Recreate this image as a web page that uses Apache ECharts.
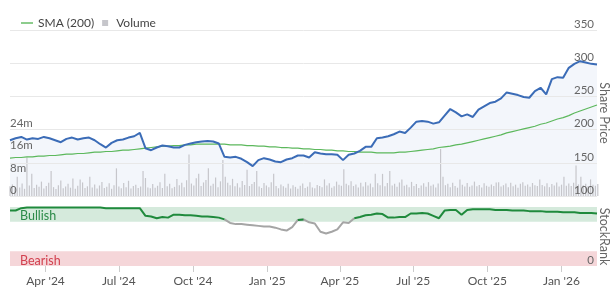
<!DOCTYPE html>
<html>
<head>
<meta charset="utf-8">
<script src="https://cdn.jsdelivr.net/npm/echarts@6/dist/echarts.min.js"></script>
<style>
  html, body { margin: 0; padding: 0; background: #fff; }
  #chart { width: 614px; height: 289px; }
</style>
</head>
<body>
<div id="chart"></div>
<script>
// weekly series start here, volume every 3 days
const startDate = new Date(2024, 1, 17).getTime()
const DAY = 86400000

const price = [
  184, 187, 189, 185, 187, 186, 189, 187, 184, 181,
  186, 188, 185, 187, 188, 184, 178, 173, 180, 184,
  185, 188, 190, 195, 172, 169, 173, 176, 175, 173,
  173, 177, 179, 181, 182, 183, 182, 179, 159, 158,
  159, 156, 151, 145, 154, 157, 155, 152, 151, 155,
  157, 161, 161, 158, 166, 164, 163, 163, 162, 154,
  162, 164, 168, 174, 174, 187, 188, 190, 193, 197,
  195, 203, 212, 213, 212, 209, 211, 221, 231, 226,
  220, 223, 219, 230, 235, 240, 242, 247, 256, 254,
  252, 249, 248, 258, 263, 253, 276, 279, 278, 293,
  299, 303, 301, 299, 298
]

const sma200 = [
  157, 158, 158, 159, 159, 160, 160, 161, 161, 162,
  163, 163, 164, 164, 165, 166, 166, 167, 167, 168,
  169, 169, 170, 171, 172, 173, 174, 175, 175, 176,
  176, 177, 177, 178, 178, 178, 178, 178, 178, 177,
  177, 177, 176, 176, 175, 175, 174, 174, 173, 173,
  172, 172, 171, 171, 170, 170, 169, 169, 168, 168,
  167, 167, 166, 166, 166, 165, 165, 165, 165, 166,
  166, 167, 168, 169, 170, 171, 173, 174, 175, 177,
  178, 180, 182, 184, 186, 188, 190, 192, 195, 197,
  199, 201, 203, 205, 208, 210, 213, 216, 218, 221,
  225, 228, 231, 234, 237
]

const stockRank = [
  94, 94, 98, 99, 99, 99, 99, 99, 99, 99,
  99, 99, 99, 99, 99, 99, 99, 98, 98, 98,
  98, 98, 98, 98, 85, 84, 81, 83, 82, 87,
  87, 86, 86, 85, 84, 84, 83, 82, 79, 73,
  71, 71, 70, 69, 68, 67, 67, 65, 62, 60,
  66, 78, 79, 74, 72, 58, 55, 58, 62, 74,
  73, 81, 83, 86, 87, 89, 88, 82, 82, 83,
  83, 89, 89, 90, 89, 85, 81, 94, 95, 95,
  87, 95, 96, 96, 96, 96, 95, 95, 95, 94,
  94, 94, 93, 93, 93, 92, 92, 92, 91, 91,
  91, 90, 90, 90, 89
]

// millions of shares
const volume = [
  3.5, 4.2, 2.8, 7, 3.1, 4.5, 2.6, 14, 3.8, 8, 2.9, 4.1, 3.3, 5.2, 2.7, 3.6, 4.8, 9, 3.2, 2.5,
  3.9, 5.6, 2.8, 3.4, 4.4, 3.0, 6.3, 2.6, 3.7, 6, 4.9, 2.9, 3.5, 7, 3.1, 4.2, 2.7, 3.8, 5.1, 2.9,
  3.3, 4.6, 2.6, 3.9, 10, 3.4, 2.8, 4.7, 3.2, 5.5, 2.7, 3.6, 4.1, 2.9, 3.4, 9, 6.5, 3.1, 2.8, 4.3,
  3.0, 3.7, 5.0, 2.9, 8, 3.5, 4.4, 2.8, 3.3, 6.1, 3.9, 4.8, 3.2, 5.7, 15, 4.5, 3.8, 6.4, 8, 3.6,
  4.9, 5.8, 10, 3.7, 4.4, 6.7, 3.2, 5.3, 13, 7, 4.8, 3.9, 6.2, 3.5, 4.6, 3.1, 5.4, 4.0, 9.5, 3.6,
  4.3, 5.1, 9, 3.4, 2.9, 4.7, 3.8, 3.2, 5.0, 8, 3.6, 2.8, 4.2, 3.5, 3.0, 4.4, 2.7, 3.9, 3.3, 2.6,
  3.7, 4.5, 2.9, 3.4, 5, 3.1, 2.8, 4.0, 3.6, 3.2, 6, 3.8, 4.6, 3.0, 3.5, 5.2, 4.1, 3.7, 9.7, 4.4,
  3.9, 5.3, 3.6, 4.2, 3.1, 4.8, 3.4, 5, 3.8, 4.5, 3.2, 8, 4.6, 3.9, 8, 3.5, 4.7, 9, 3.8, 4.4,
  3.3, 4.9, 6, 3.7, 4.1, 3.2, 5.1, 3.6, 4.3, 2.9, 3.8, 4.6, 3.3, 5.0, 3.7, 4.2, 3.1, 4.5, 17, 7,
  3.9, 4.4, 3.2, 4.8, 3.6, 3.0, 6, 4.1, 3.4, 4.7, 3.3, 3.8, 5.2, 3.5, 4.0, 3.1, 4.6, 3.7, 3.3, 4.2,
  3.6, 4.9, 5, 3.4, 3.9, 4.5, 3.2, 4.8, 3.5, 4.1, 3.0, 4.4, 5, 3.7, 4.2, 3.3, 4.7, 3.9, 3.6, 6,
  4.0, 3.5, 4.6, 3.2, 4.3, 3.8, 4.9, 3.4, 4.1, 7, 3.7, 4.5, 3.6, 4.8, 11, 4.2, 7, 3.9, 4.4, 3.6,
  6, 4.1, 3.7, 4.3
]

const quarterTicks = ['2024-04-01', '2024-07-01', '2024-10-01', '2025-01-01',
  '2025-04-01', '2025-07-01', '2025-10-01', '2026-01-01']
const monthNames = ['Jan', 'Feb', 'Mar', 'Apr', 'May', 'Jun', 'Jul', 'Aug', 'Sep', 'Oct', 'Nov', 'Dec']
const bullishFloor = 76

const xMin = startDate
const xMax = startDate + 728 * DAY
const tickTimes = quarterTicks.map(s => {
  const p = s.split('-')
  return new Date(+p[0], +p[1] - 1, +p[2]).getTime()
})

function weekly(arr) {
  return arr.map((v, i) => [startDate + i * 7 * DAY, v])
}
const volData = volume.map((v, i) => [startDate + i * 3 * DAY, v * 1e6])

// split the rank line into a green (bullish) part and a grey part
const rankGreen = stockRank.map((v, i) => {
  const prev = i > 0 && stockRank[i - 1] >= bullishFloor && v >= bullishFloor
  const next = i < stockRank.length - 1 && stockRank[i + 1] >= bullishFloor && v >= bullishFloor
  return [startDate + i * 7 * DAY, prev || next ? v : null]
})
const rankGrey = stockRank.map((v, i) => {
  const low = v < bullishFloor ||
    (i > 0 && stockRank[i - 1] < bullishFloor) ||
    (i < stockRank.length - 1 && stockRank[i + 1] < bullishFloor)
  return [startDate + i * 7 * DAY, low ? v : null]
})

const txt = '#666'
const font = 'Lato'

const chart = echarts.init(document.getElementById('chart'))
chart.setOption({
  animation: false,
  backgroundColor: '#fff',
  textStyle: { fontFamily: font },
  legend: {
    left: 16,
    top: 12,
    itemWidth: 12,
    itemHeight: 6,
    itemGap: 8,
    textStyle: { color: '#444', fontSize: 12, fontFamily: font },
    data: [
      { name: 'SMA (200)', icon: 'path://M0,0H12V1.4H0Z' },
      { name: 'Volume', icon: 'path://M0,0H8V8H0Z' }
    ]
  },
  grid: [
    { left: 10, right: 17, top: 30, height: 166, outerBoundsMode: 'none' },
    { left: 10, right: 17, top: 207, height: 59, outerBoundsMode: 'none' }
  ],
  xAxis: [
    {
      type: 'value', gridIndex: 0, min: xMin, max: xMax,
      axisLine: { show: false }, axisTick: { show: false },
      axisLabel: { show: false }, splitLine: { show: false }
    },
    {
      type: 'value', gridIndex: 1, min: xMin, max: xMax,
      axisLine: { show: false },
      splitLine: { show: false },
      axisTick: { show: true, length: 6, customValues: tickTimes, lineStyle: { color: '#ccc' } },
      axisLabel: {
        customValues: tickTimes,
        color: '#555',
        fontSize: 12,
        margin: 9,
        formatter: v => {
          const d = new Date(v)
          return monthNames[d.getMonth()] + " '" + String(d.getFullYear()).slice(2)
        }
      }
    }
  ],
  yAxis: [
    {
      gridIndex: 0, type: 'value', position: 'right', z: 3,
      min: 100, max: 350, interval: 50,
      name: 'Share Price', nameLocation: 'middle', nameRotate: -90, nameGap: 1,
      nameMoveOverlap: false,
      nameTextStyle: { color: txt, fontSize: 12.5 },
      axisLine: { show: false }, axisTick: { show: false },
      axisLabel: { inside: true, verticalAlign: 'bottom', align: 'right', color: txt, fontSize: 11.5, margin: 3 },
      splitLine: { lineStyle: { color: '#e8e8e8' } }
    },
    {
      gridIndex: 0, type: 'value', position: 'left', z: 3,
      min: 0, max: 60e6, interval: 8e6,
      axisLine: { show: false }, axisTick: { show: false },
      splitLine: { show: false },
      axisLabel: {
        inside: true, verticalAlign: 'bottom', align: 'left', color: txt, fontSize: 11.5, margin: 0,
        formatter: v => v === 0 ? '0' : (v <= 24e6 ? v / 1e6 + 'm' : '')
      }
    },
    {
      gridIndex: 1, type: 'value', position: 'right', z: 3,
      min: 0, max: 100, interval: 100,
      name: 'StockRank', nameLocation: 'middle', nameRotate: -90, nameGap: 1,
      nameMoveOverlap: false,
      nameTextStyle: { color: txt, fontSize: 12.5 },
      axisLine: { show: false }, axisTick: { show: false },
      splitLine: { show: false },
      axisLabel: {
        inside: true, verticalAlign: 'bottom', align: 'right', color: txt, fontSize: 11.5, margin: 3,
        formatter: v => v === 0 ? '0' : ''
      }
    }
  ],
  series: [
    {
      name: 'priceArea', type: 'line', xAxisIndex: 0, yAxisIndex: 0,
      data: weekly(price), symbol: 'none', silent: true, z: 1,
      lineStyle: { width: 0 },
      areaStyle: { color: '#f3f6fb', origin: 'start', opacity: 1 }
    },
    {
      name: 'Volume', type: 'bar', xAxisIndex: 0, yAxisIndex: 1,
      data: volData, barWidth: 1.2, z: 2,
      itemStyle: { color: '#c6c6cb' }
    },
    {
      name: 'SMA (200)', type: 'line', xAxisIndex: 0, yAxisIndex: 0,
      data: weekly(sma200), symbol: 'none', z: 4,
      itemStyle: { color: '#5cb85c' },
      lineStyle: { color: '#5cb85c', width: 1.2 }
    },
    {
      name: 'Share Price', type: 'line', xAxisIndex: 0, yAxisIndex: 0,
      data: weekly(price), symbol: 'none', z: 5,
      lineStyle: { color: '#3b6cb7', width: 2 }
    },
    {
      name: 'rankBands', type: 'line', xAxisIndex: 1, yAxisIndex: 2,
      data: [], silent: true, z: 1,
      markArea: {
        silent: true,
        data: [
          [{
            yAxis: 75,
            itemStyle: { color: '#d5eadc' },
            label: { show: true, position: 'insideLeft', distance: 10, offset: [0, 2], color: '#2b8a48', fontSize: 12.5, formatter: 'Bullish' }
          }, { yAxis: 100 }],
          [{
            yAxis: 0,
            itemStyle: { color: '#f5d6d9' },
            label: { show: true, position: 'insideLeft', distance: 10, offset: [0, 2], color: '#d2404f', fontSize: 12.5, formatter: 'Bearish' }
          }, { yAxis: 25 }]
        ]
      }
    },
    {
      name: 'StockRank low', type: 'line', xAxisIndex: 1, yAxisIndex: 2,
      data: rankGrey, symbol: 'none', z: 4, connectNulls: false,
      lineStyle: { color: '#a5a5a5', width: 2 }
    },
    {
      name: 'StockRank', type: 'line', xAxisIndex: 1, yAxisIndex: 2,
      data: rankGreen, symbol: 'none', z: 5, connectNulls: false,
      lineStyle: { color: '#1f8a3c', width: 2 }
    }
  ]
})
</script>
</body>
</html>
